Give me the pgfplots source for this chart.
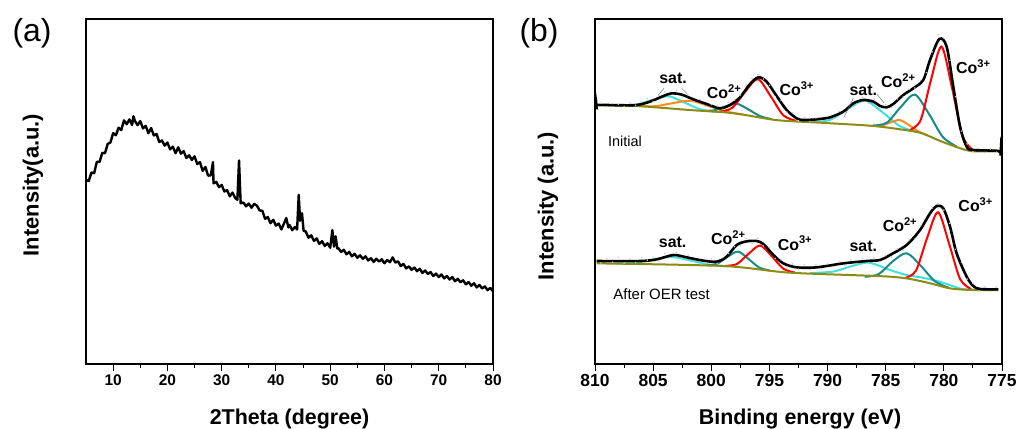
\documentclass[border=0pt]{standalone}
\usepackage{fontspec}
\setmainfont{Liberation Sans}
\usepackage{pgfplots}
\pgfplotsset{compat=1.18}
\definecolor{cteal}{HTML}{178A8A}
\definecolor{ccyan}{HTML}{3FE0E0}
\definecolor{corange}{HTML}{FF8C1A}
\definecolor{colive}{HTML}{8C8C14}
\definecolor{cred}{HTML}{FF0000}
\pgfplotsset{
  panel/.style={scale only axis, width=407bp, height=345bp, anchor=south west,
    ymin=0, ymax=100, ytick=\empty, xtick pos=bottom, tick align=outside,
    major tick length=7bp, minor tick length=4bp, minor x tick num=1,
    axis line style={line width=1.2bp}, tick style={line width=1bp, black},
    /pgf/number format/assume math mode=true, /pgf/number format/1000 sep={}},
  comp/.style={line width=2bp, smooth, no marks},
}
\begin{document}
\begin{tikzpicture}[x=1bp,y=1bp]
\useasboundingbox (0,0) rectangle (1018,428);
% ---------------- (a) XRD ----------------
\begin{axis}[panel, at={(86bp,64bp)}, xmin=5, xmax=80, xtick={10,20,...,80},
  tick label style={font=\fontsize{15.5}{16}\selectfont\bfseries}]
\addplot[black, line width=2.4bp, no marks, line join=round] coordinates {
(5.0,53.4)(5.5,53.0)(6.0,55.5)(6.5,55.3)(7.0,58.6)(7.5,58.6)(8.0,61.2)(8.5,61.1)
(9.0,63.8)(9.5,64.2)(10.0,66.9)(10.5,66.3)(11.0,68.5)(11.5,67.8)(12.0,70.6)(12.5,69.5)
(13.0,70.9)(13.5,69.3)(13.75,71.8)(14.0,70.5)(14.5,69.25)(15.0,70.4)(15.5,68.3)(16.0,69.0)
(16.5,66.9)(17.0,68.4)(17.5,66.25)(18.0,66.7)(18.5,64.35)(19.0,64.8)(19.5,63.3)(20.0,64.2)
(20.5,62.2)(21.0,63.0)(21.5,61.1)(22.0,62.8)(22.5,60.95)(23.0,61.7)(23.5,59.7)(24.0,60.5)
(24.5,59.15)(25.0,60.2)(25.5,57.95)(26.0,58.5)(26.5,56.0)(27.0,57.1)(27.5,54.6)(28.0,54.7)
(28.4,58.5)(28.5,52.35)(29.0,52.8)(29.5,51.25)(30.0,51.9)(30.5,50.0)(31.0,50.4)(31.5,48.6)
(32.0,49.7)(32.5,48.1)(32.9,47.6)(33.2,59.0)(33.5,46.6)(34.0,46.8)(34.5,45.7)(35.0,46.5)
(35.5,45.3)(36.0,46.4)(36.5,45.9)(37.0,44.5)(37.5,44.4)(38.0,42.1)(38.5,42.6)(39.0,40.8)
(39.5,41.8)(40.0,40.1)(40.5,40.7)(41.0,39.0)(41.5,40.8)(41.9,42.3)(42.3,39.6)(42.5,40.3)
(43.0,38.8)(43.5,39.7)(43.9,39.0)(44.2,49.0)(44.45,41.5)(44.8,43.7)(45.1,38.6)(45.5,38.4)
(46.0,36.6)(46.5,37.3)(47.0,35.7)(47.5,36.4)(48.0,34.8)(48.5,35.6)(49.0,34.2)(49.5,35.0)
(50.0,33.7)(50.4,38.8)(50.7,34.0)(51.0,37.0)(51.3,33.5)(51.5,33.6)(52.0,32.5)(52.5,33.1)
(53.0,31.8)(53.5,32.5)(54.0,31.2)(54.5,31.95)(55.0,30.8)(55.5,31.5)(56.0,30.5)(56.5,31.2)
(57.0,30.0)(57.5,30.65)(58.0,29.6)(58.5,30.5)(59.0,29.7)(59.5,30.35)(60.0,29.2)(60.5,30.15)
(61.0,29.5)(61.5,30.9)(62.0,29.4)(62.5,29.75)(63.0,28.4)(63.5,29.0)(64.0,27.7)(64.5,28.3)
(65.0,27.3)(65.5,27.95)(66.0,26.9)(66.5,27.6)(67.0,26.4)(67.5,27.1)(68.0,26.1)(68.5,26.65)
(69.0,25.5)(69.5,26.2)(70.0,25.2)(70.5,25.95)(71.0,24.8)(71.5,25.5)(72.0,24.5)(72.5,25.2)
(73.0,24.0)(73.5,24.7)(74.0,23.7)(74.5,24.25)(75.0,23.1)(75.5,23.75)(76.0,22.7)(76.5,23.4)
(77.0,22.2)(77.5,22.9)(78.0,21.9)(78.5,22.5)(79.0,21.4)(79.5,22.05)(80.0,21.1)};
\end{axis}
% ---------------- (b) XPS ----------------
\begin{axis}[panel, at={(595bp,64bp)}, xmin=775, xmax=810, x dir=reverse,
  xtick={775,780,...,810},
  tick label style={font=\fontsize{17.5}{18}\selectfont\bfseries}]
% raw data (initial)
\addplot[only marks, mark=*, mark size=0.5bp, gray!45, draw=gray!45] coordinates {
(809.5,75.6)(809.0,74.6)(808.5,75.5)(808.0,75.3)(807.5,74.7)(807.0,75.7)(806.5,75.0)(806.0,76.0)
(805.5,76.9)(805.0,76.0)(804.5,77.9)(804.0,78.9)(803.5,77.7)(803.0,79.3)(802.5,77.4)(802.0,78.0)
(801.5,76.0)(801.0,76.7)(800.5,74.6)(800.0,75.2)(799.5,74.8)(799.0,73.8)(798.5,75.8)(798.0,76.5)
(797.5,78.0)(797.0,80.9)(796.5,82.8)(796.0,83.9)(795.5,82.6)(795.0,80.8)(794.5,77.5)(794.0,76.4)
(793.5,73.0)(793.0,72.8)(792.5,70.5)(792.0,71.5)(791.5,70.3)(791.0,71.3)(790.5,70.5)(790.0,71.8)
(789.5,71.2)(789.0,73.2)(788.5,72.8)(788.0,75.7)(787.5,75.3)(787.0,77.3)(786.5,75.6)(786.0,76.8)
(785.5,74.2)(785.0,75.2)(784.5,74.4)(784.0,76.8)(783.5,77.4)(783.0,79.6)(782.5,80.0)(782.0,82.2)
(781.5,84.5)(781.0,90.5)(780.5,95.5)(780.0,94.5)(779.5,88.0)(779.0,77.5)(778.5,67.5)(778.0,63.8)
(777.5,61.5)(777.0,62.4)(776.5,61.2)(776.0,62.3)(775.5,61.4)};
% raw data (after)
\addplot[only marks, mark=*, mark size=0.5bp, gray!45, draw=gray!45] coordinates {
(809.5,29.3)(809.0,30.6)(808.5,29.5)(808.0,30.9)(807.5,29.2)(807.0,30.4)(806.5,29.4)(806.0,30.8)
(805.5,30.1)(805.0,31.0)(804.5,29.8)(804.0,32.0)(803.5,30.8)(803.0,32.3)(802.5,30.6)(802.0,31.6)
(801.5,29.7)(801.0,30.6)(800.5,29.3)(800.0,30.4)(799.5,29.2)(799.0,30.8)(798.5,32.0)(798.0,34.0)
(797.5,34.3)(797.0,36.4)(796.5,35.0)(796.0,36.5)(795.5,34.2)(795.0,33.8)(794.5,30.6)(794.0,30.2)
(793.5,28.1)(793.0,29.0)(792.5,27.5)(792.0,28.8)(791.5,27.4)(791.0,28.7)(790.5,27.6)(790.0,29.0)
(789.5,28.2)(789.0,29.6)(788.5,28.6)(788.0,30.2)(787.5,29.0)(787.0,30.6)(786.5,29.3)(786.0,30.7)
(785.5,29.6)(785.0,31.4)(784.5,31.0)(784.0,33.4)(783.5,33.0)(783.0,35.9)(782.5,36.2)(782.0,40.0)
(781.5,41.0)(781.0,45.2)(780.5,46.5)(780.0,44.6)(779.5,40.8)(779.0,33.2)(778.5,29.5)(778.0,24.6)
(777.5,23.4)(777.0,21.2)(776.5,22.4)(776.0,21.0)(775.5,22.3)};
% ---- Initial components ----
\addplot[comp, ccyan] coordinates {(807.75,74.9)(806.4,75.2)(805.05,76.55)(803.7,77.6)(802.35,75.86)(801.0,73.87)(799.65,73.1)};
\addplot[comp, corange] coordinates {(806.3,74.8)(804.8,74.73)(803.3,75.62)(801.8,76.3)(800.3,74.88)(798.8,73.23)(797.3,72.3)};
\addplot[comp, cteal] coordinates {(800.8,73.4)(799.8,73.5)(798.8,74.63)(797.8,75.44)(796.8,73.76)(795.8,71.85)(794.8,70.95)};
\addplot[comp, cred] coordinates {(799.3,73.1)(798.2,74.24)(797.1,78.84)(796.0,82.57)(794.9,77.65)(793.8,72.07)(792.7,70.48)};
\addplot[comp, ccyan] coordinates {(791.3,70.16)(789.8,70.74)(788.3,73.83)(786.8,76.35)(785.3,73.03)(783.8,68.98)(782.3,67.24)};
\addplot[comp, corange] coordinates {(786.2,69.05)(785.4,69.06)(784.6,70.0)(783.8,70.71)(783.0,69.25)(782.2,67.45)(781.4,66.22)};
\addplot[comp, cteal] coordinates {(786.1,69.12)(784.9,69.95)(783.7,74.52)(782.5,78.09)(781.3,72.59)(780.1,65.85)(778.9,63.03)};
\addplot[comp, cred] coordinates {(782.9,67.84)(782.0,70.68)(781.1,82.44)(780.2,92.0)(779.3,80.06)(778.4,66.16)(777.5,62.0)};
\addplot[comp, colive] coordinates {(809.8,75.0)(806.5,74.8)(801.8,73.6)(798.1,72.7)(794.4,70.7)(790.4,69.9)(786.1,69.0)(783.3,67.8)(781.9,66.9)(780.5,64.9)(779.0,63.0)(777.6,61.7)(775.2,61.7)};
\addplot[black, line width=2.6bp, smooth, no marks] coordinates {
(809.97,73.8)(809.93,76.6)(809.88,74.6)(809.8,75.1)(808.0,75.0)(806.42,75.07)(805.27,76.04)(804.12,77.68)
(803.41,78.45)(802.55,78.07)(801.54,76.71)(800.40,75.36)(799.25,74.11)(798.39,75.07)(797.53,77.29)
(796.67,81.16)(795.95,83.09)(795.24,81.84)(794.38,77.68)(793.52,73.62)(792.66,71.21)(792.08,70.72)
(790.94,70.92)(789.79,71.50)(788.65,73.14)(787.78,75.55)(786.93,76.52)(786.06,76.04)(785.49,74.78)
(784.92,74.40)(784.35,75.36)(783.49,77.97)(782.63,79.90)(781.77,82.32)(781.19,88.12)(780.39,94.20)
(779.76,91.98)(779.19,80.39)(778.61,68.79)(778.04,62.99)(777.47,62.03)(775.32,61.74)(775.12,60.4)(775.08,63.0)(775.03,61.2)};
% ---- After components ----
\addplot[comp, ccyan] coordinates {(808.2,29.08)(806.6,29.25)(805.0,30.23)(803.4,31.01)(801.8,30.0)(800.2,28.8)(798.6,28.31)};
\addplot[comp, cteal] coordinates {(800.4,28.55)(799.5,29.07)(798.6,31.07)(797.7,32.58)(796.8,30.46)(795.9,28.0)(795.0,27.12)};
\addplot[comp, cred] coordinates {(798.8,28.43)(797.8,28.96)(796.8,31.92)(795.8,34.34)(794.8,31.25)(793.8,27.61)(792.8,26.49)};
\addplot[comp, ccyan] coordinates {(791.5,26.35)(789.5,26.8)(788.0,28.3)(786.6,29.4)(785.5,28.4)(784.6,27.2)(783.2,25.8)(781.8,25.0)(780.5,24.0)(779.5,22.9)(778.5,21.8)(777.5,21.5)};
\addplot[comp, cteal] coordinates {(786.8,25.27)(785.6,26.06)(784.4,29.74)(783.2,32.1)(782.0,28.53)(780.8,24.05)(779.6,22.12)};
\addplot[comp, cred] coordinates {(783.35,24.91)(782.4,27.05)(781.45,36.45)(780.5,43.99)(779.55,34.85)(778.6,24.59)(777.65,21.73)};
\addplot[comp, colive] coordinates {(809.86,29.17)(798.96,28.40)(793.23,26.47)(784.63,25.31)(781.77,23.86)(779.47,21.93)(777.47,21.45)(775.32,21.45)};
\addplot[black, line width=2.6bp, smooth, no marks] coordinates {
(809.86,29.85)(806.13,29.85)(804.70,30.33)(803.26,31.59)(802.12,30.91)(800.68,29.95)(799.54,29.66)
(798.68,31.11)(797.82,34.49)(796.96,35.55)(796.10,35.65)(795.52,34.78)(794.66,31.59)(793.80,29.17)
(792.66,28.01)(790.94,28.01)(788.65,29.17)(786.64,29.85)(785.49,30.14)(784.63,31.59)(783.20,34.49)
(782.05,38.84)(781.19,43.67)(780.62,45.79)(780.05,45.12)(779.47,39.80)(778.90,32.07)(778.04,25.31)
(777.47,22.60)(776.89,21.74)(775.32,21.64)};
% annotations
\begin{scope}[every node/.style={font=\fontsize{16}{16}\selectfont\bfseries, inner sep=0pt}]
\node at (axis cs:803.29,82.9) {sat.};
\node at (axis cs:798.9,78.9) {Co\textsuperscript{2+}};
\node at (axis cs:792.65,79.7) {Co\textsuperscript{3+}};
\node at (axis cs:786.93,79.2) {sat.};
\node at (axis cs:783.92,82.1) {Co\textsuperscript{2+}};
\node at (axis cs:777.47,86.2) {Co\textsuperscript{3+}};
\node at (axis cs:803.32,35.2) {sat.};
\node at (axis cs:798.53,36.7) {Co\textsuperscript{2+}};
\node at (axis cs:792.80,35.0) {Co\textsuperscript{3+}};
\node at (axis cs:786.93,34.0) {sat.};
\node at (axis cs:783.77,40.3) {Co\textsuperscript{2+}};
\node at (axis cs:777.26,46.1) {Co\textsuperscript{3+}};
\end{scope}
\node[font=\fontsize{14.5}{15}\selectfont, inner sep=0pt] at (axis cs:807.42,64.4) {Initial};
\node[font=\fontsize{15}{15}\selectfont, inner sep=0pt] at (axis cs:804.27,20.3) {After OER test};
\draw[line width=0.4bp, gray!70!black] (axis cs:804.55,77.97) -- (axis cs:804.07,79.9);
\draw[line width=0.4bp, gray!70!black] (axis cs:802.55,79.9) -- (axis cs:802.06,78.26);
\draw[line width=0.4bp, gray!70!black] (axis cs:788.59,71.5) -- (axis cs:787.79,77.0);
\draw[line width=0.4bp, gray!70!black] (axis cs:785.78,78.26) -- (axis cs:785.15,75.75);
\end{axis}
% labels
\node[font=\fontsize{21.5}{24}\selectfont\bfseries, anchor=base] at (289.5,4) {2Theta (degree)};
\node[font=\fontsize{21.5}{24}\selectfont\bfseries, anchor=base] at (800,4) {Binding energy (eV)};
\node[font=\fontsize{22}{24}\selectfont\bfseries, rotate=90] at (33,243) {Intensity(a.u.)};
\node[font=\fontsize{22}{24}\selectfont\bfseries, rotate=90] at (548,222) {Intensity (a.u.)};
\node[font=\fontsize{32}{34}\selectfont] at (32,395) {(a)};
\node[font=\fontsize{32}{34}\selectfont] at (539,395) {(b)};
\end{tikzpicture}
\end{document}
